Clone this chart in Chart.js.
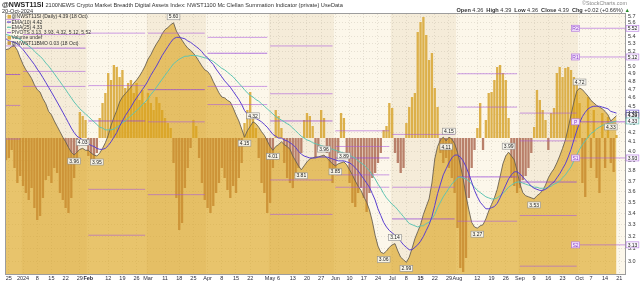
<!DOCTYPE html>
<html>
<head>
<meta charset="utf-8">
<script src="https://cdn.jsdelivr.net/npm/chart.js@4.4.1/dist/chart.umd.min.js"></script>
<style>
  body { margin: 0; background: #fff; }
  #wrap { position: relative; width: 640px; height: 282px; font-family: "Liberation Sans", Arial, sans-serif; color: #222; }
  #c { position: absolute; left: 0; top: 0; }
  .hd { position: absolute; white-space: nowrap; line-height: 1; }
</style>
</head>
<body>
<div id="wrap">
  <canvas id="c" width="640" height="282"></canvas>
  <div class="hd" style="left:2px;top:1px;font-size:7px"><b>@NWST11SI</b> <span style="font-size:5.65px;color:#333">2100NEWS Crypto Market Breadth Digital Assets Index: NWST1100 Mc Clellan Summation Indicator (private) UseData</span></div>
  <div class="hd" style="left:2px;top:8.5px;font-size:5.6px;color:#333">20-Oct-2024</div>
  <div class="hd" style="right:13px;top:1px;font-size:5.4px;color:#888">©StockCharts.com</div>
  <div class="hd" style="right:10px;top:8px;font-size:5.6px;color:#333"><b>Open</b> 4.36 &nbsp;<b>High</b> 4.39 &nbsp;<b>Low</b> 4.36 &nbsp;<b>Close</b> 4.39 &nbsp;<b>Chg</b> +0.02 (+0.66%) <span style="color:#2a8a2a">▲</span></div>
</div>
<script>
// daily closes, 22 Dec 2023 .. 18 Oct 2024 (weekdays)
const price = [
  5.22, 5.23, 5.26, 5.27, 5.21, 5.11, 5.02, 4.95, 4.90, 4.84, 4.76, 4.70, 4.67, 4.59, 4.53, 4.44, 4.40, 4.33, 4.27, 4.21, 4.15, 4.10, 4.04, 3.99, 3.96, 3.99, 4.02, 4.03, 4.01,
  4.01, 3.98, 3.96, 3.95, 3.98, 4.03, 4.09, 4.17, 4.28, 4.37, 4.45, 4.55, 4.61, 4.65, 4.69, 4.73, 4.78, 4.82, 4.87, 4.93, 5.00,
  5.09, 5.15, 5.23, 5.30, 5.36, 5.44, 5.50, 5.53, 5.57, 5.60, 5.48, 5.41, 5.35, 5.29, 5.24, 5.21, 5.17, 5.12, 5.06, 5.00, 4.95,
  4.93, 4.88, 4.80, 4.73, 4.66, 4.61, 4.60, 4.57, 4.55, 4.48, 4.40, 4.33, 4.24, 4.15, 4.22, 4.27, 4.32, 4.30, 4.26, 4.21, 4.17, 4.11,
  4.05, 4.01, 4.05, 4.07, 4.10, 4.07, 4.05, 4.02, 3.95, 3.90, 3.85, 3.81, 3.85, 3.89, 3.92, 3.93, 3.94, 3.94, 3.95, 3.96, 3.93, 3.90, 3.87,
  3.85, 3.87, 3.88, 3.89, 3.86, 3.81, 3.76, 3.70, 3.65, 3.61, 3.55, 3.50, 3.43, 3.33, 3.21, 3.12, 3.07, 3.06, 3.08, 3.11,
  3.13, 3.14, 3.08, 3.03, 3.01, 2.99, 3.03, 3.10, 3.18, 3.24, 3.30, 3.39, 3.46, 3.53, 3.68, 3.92, 4.05, 4.12, 4.15, 4.11, 4.15, 4.13, 4.08,
  3.99, 3.86, 3.72, 3.56, 3.43, 3.32, 3.28, 3.27, 3.29, 3.30, 3.35, 3.42, 3.48, 3.54, 3.62, 3.74, 3.87, 3.95, 3.99, 3.95, 3.91, 3.80,
  3.67, 3.59, 3.56, 3.55, 3.54, 3.53, 3.56, 3.58, 3.61, 3.66, 3.73, 3.78, 3.82, 3.88, 3.95, 4.03, 4.12, 4.25, 4.40, 4.55, 4.68,
  4.72, 4.70, 4.66, 4.62, 4.57, 4.54, 4.51, 4.49, 4.47, 4.44, 4.40, 4.33, 4.36, 4.39
];
const ema10 = [
  5.37, 5.34, 5.33, 5.32, 5.30, 5.26, 5.22, 5.17, 5.12, 5.07, 5.02, 4.96, 4.91, 4.85, 4.79, 4.73, 4.67, 4.61, 4.55, 4.49, 4.43, 4.37, 4.31, 4.25, 4.20, 4.16, 4.14, 4.12, 4.10,
  4.08, 4.06, 4.05, 4.03, 4.02, 4.02, 4.03, 4.06, 4.10, 4.15, 4.20, 4.27, 4.33, 4.39, 4.44, 4.49, 4.55, 4.60, 4.65, 4.70, 4.75,
  4.81, 4.88, 4.94, 5.00, 5.07, 5.14, 5.20, 5.26, 5.32, 5.37, 5.39, 5.39, 5.38, 5.37, 5.34, 5.32, 5.29, 5.26, 5.23, 5.19, 5.14,
  5.11, 5.06, 5.02, 4.96, 4.91, 4.86, 4.81, 4.77, 4.73, 4.68, 4.63, 4.58, 4.52, 4.45, 4.41, 4.38, 4.37, 4.36, 4.34, 4.32, 4.29, 4.26,
  4.22, 4.18, 4.16, 4.14, 4.14, 4.12, 4.11, 4.09, 4.07, 4.04, 4.00, 3.97, 3.95, 3.94, 3.93, 3.93, 3.93, 3.94, 3.94, 3.94, 3.94, 3.93, 3.92,
  3.91, 3.90, 3.90, 3.90, 3.89, 3.88, 3.86, 3.83, 3.80, 3.76, 3.72, 3.68, 3.64, 3.58, 3.52, 3.44, 3.38, 3.32, 3.28, 3.25,
  3.23, 3.21, 3.19, 3.16, 3.13, 3.11, 3.09, 3.09, 3.11, 3.13, 3.16, 3.20, 3.25, 3.30, 3.37, 3.47, 3.58, 3.67, 3.76, 3.82, 3.88, 3.93, 3.96,
  3.96, 3.94, 3.90, 3.84, 3.77, 3.69, 3.61, 3.55, 3.50, 3.47, 3.44, 3.44, 3.45, 3.46, 3.49, 3.54, 3.60, 3.66, 3.72, 3.76, 3.79, 3.79,
  3.77, 3.74, 3.71, 3.68, 3.65, 3.63, 3.62, 3.61, 3.61, 3.62, 3.64, 3.67, 3.69, 3.73, 3.77, 3.82, 3.87, 3.94, 4.02, 4.12, 4.22,
  4.31, 4.38, 4.43, 4.47, 4.49, 4.50, 4.50, 4.50, 4.49, 4.48, 4.47, 4.44, 4.43, 4.42
];
const ema25 = [
  5.43, 5.42, 5.40, 5.39, 5.38, 5.36, 5.33, 5.30, 5.27, 5.24, 5.20, 5.16, 5.13, 5.09, 5.04, 5.00, 4.95, 4.90, 4.85, 4.80, 4.75, 4.70, 4.65, 4.60, 4.55, 4.51, 4.47, 4.44, 4.41,
  4.38, 4.35, 4.32, 4.29, 4.26, 4.25, 4.23, 4.23, 4.23, 4.24, 4.26, 4.28, 4.31, 4.33, 4.36, 4.39, 4.42, 4.45, 4.48, 4.52, 4.55,
  4.59, 4.64, 4.68, 4.73, 4.78, 4.83, 4.88, 4.93, 4.98, 5.03, 5.06, 5.09, 5.11, 5.13, 5.13, 5.14, 5.14, 5.14, 5.13, 5.12, 5.11,
  5.10, 5.08, 5.06, 5.03, 5.00, 4.97, 4.95, 4.92, 4.89, 4.86, 4.82, 4.78, 4.74, 4.70, 4.66, 4.63, 4.61, 4.58, 4.56, 4.53, 4.50, 4.47,
  4.44, 4.41, 4.38, 4.36, 4.34, 4.32, 4.30, 4.28, 4.25, 4.22, 4.19, 4.16, 4.14, 4.12, 4.11, 4.09, 4.08, 4.07, 4.06, 4.05, 4.04, 4.03, 4.02,
  4.01, 4.00, 3.99, 3.98, 3.97, 3.96, 3.94, 3.93, 3.90, 3.88, 3.86, 3.83, 3.80, 3.76, 3.72, 3.67, 3.63, 3.58, 3.54, 3.51,
  3.48, 3.46, 3.43, 3.40, 3.37, 3.34, 3.31, 3.30, 3.29, 3.28, 3.29, 3.29, 3.31, 3.32, 3.35, 3.39, 3.45, 3.50, 3.55, 3.59, 3.63, 3.67, 3.70,
  3.73, 3.74, 3.73, 3.72, 3.70, 3.67, 3.64, 3.61, 3.59, 3.57, 3.55, 3.54, 3.53, 3.53, 3.54, 3.56, 3.58, 3.61, 3.64, 3.66, 3.68, 3.69,
  3.69, 3.68, 3.67, 3.66, 3.65, 3.64, 3.64, 3.63, 3.63, 3.63, 3.64, 3.65, 3.67, 3.68, 3.70, 3.73, 3.76, 3.80, 3.84, 3.90, 3.96,
  4.02, 4.07, 4.11, 4.15, 4.19, 4.21, 4.24, 4.26, 4.28, 4.29, 4.30, 4.31, 4.32, 4.33
];
// breadth momentum oscillator histogram
const bmo = [
  -0.22, -0.20, -0.12, -0.30, -0.45, -0.38, -0.48, -0.55, -0.62, -0.50, -0.70, -0.82, -0.78, -0.60, -0.42, -0.38, -0.45, -0.30, -0.35, -0.55, -0.62, -0.70, -0.75, -0.60, -0.40, -0.20, 0.26, 0.22, 0.18,
  -0.18, -0.25, -0.22, -0.15, 0.20, 0.35, 0.45, 0.65, 0.58, 0.73, 0.71, 0.61, 0.68, 0.50, 0.55, 0.58, 0.45, 0.55, 0.38, 0.48, 0.35,
  0.45, 0.35, 0.28, 0.41, 0.35, 0.28, 0.20, 0.15, 0.10, -0.25, -0.60, -0.92, -0.85, -0.50, -0.30, -0.10, 0.18, 0.12, -0.20, -0.45, -0.62,
  -0.70, -0.75, -0.68, -0.55, -0.45, -0.30, -0.40, -0.52, -0.60, -0.48, -0.55, -0.40, -0.25, 0.15, 0.28, 0.46, 0.25, 0.10, -0.20, -0.45, -0.55, -0.75,
  -0.65, -0.30, 0.28, 0.22, 0.10, -0.25, -0.40, -0.45, -0.50, -0.38, -0.30, -0.15, 0.18, 0.25, 0.22, 0.12, -0.20, -0.12, 0.28, 0.20, -0.15, -0.30, -0.45,
  -0.30, -0.15, 0.25, 0.20, -0.18, -0.45, -0.65, -0.69, -0.55, -0.50, -0.60, -0.74, -0.55, -0.40, -0.35, -0.25, -0.15, 0.08, 0.12, 0.35,
  0.30, -0.15, -0.25, -0.35, -0.30, 0.15, 0.31, 0.41, 0.45, 1.06, 1.16, 1.21, 1.03, 0.78, 0.85, 0.50, 0.31, -0.15, -0.25, -0.20, -0.30, -0.40, -0.55,
  -0.90, -1.30, -1.34, -1.20, -0.60, -0.30, -0.12, 0.10, 0.35, -0.12, 0.18, 0.45, 0.46, 0.58, 0.71, 0.73, 0.65, 0.58, 0.20, -0.40, -0.48, -0.55,
  -0.50, -0.42, -0.38, -0.30, -0.15, 0.11, 0.48, 0.38, 0.28, 0.18, -0.12, 0.25, 0.30, 0.65, 0.71, 0.61, 0.70, 0.71, 0.68, 0.61, 0.55,
  0.35, -0.45, -0.59, 0.41, -0.30, 0.28, -0.40, -0.55, 0.25, -0.30, 0.21, -0.25, -0.34, 0.03
];

// monthly pivot levels
const pivotMonths = ['2023-12', '2024-01', '2024-02', '2024-03', '2024-04', '2024-05', '2024-06', '2024-07', '2024-08', '2024-09', '2024-10'];
const pivR2 = [5.65, 5.74, 5.45, 5.83, 5.82, 5.27, 4.22, 4.18, 4.90, 4.42, 5.52];
const pivR1 = [5.27, 5.43, 4.75, 5.45, 5.39, 4.65, 4.05, 3.64, 4.49, 4.11, 5.12];
const pivP  = [4.89, 5.24, 4.33, 4.70, 5.17, 4.33, 3.93, 3.35, 3.74, 3.69, 4.32];
const pivS1 = [4.51, 4.93, 3.62, 4.32, 4.74, 3.71, 3.76, 2.81, 3.33, 3.38, 3.93];
const pivS2 = [4.13, 4.74, 3.21, 3.57, 4.52, 3.39, 3.64, 2.52, 2.58, 2.96, 3.13];

const yTicks = [3.0, 3.1, 3.2, 3.3, 3.4, 3.5, 3.6, 3.7, 3.8, 3.9, 4.0, 4.1, 4.2, 4.3, 4.4, 4.5, 4.6, 4.7, 4.8, 4.9, 5.0, 5.1, 5.2, 5.3, 5.4, 5.5, 5.6, 5.7];
const xTicks = [
  ['2023-12-25', '25'], ['2024-01-01', '2024'], ['2024-01-08', '8'], ['2024-01-15', '15'], ['2024-01-22', '22'], ['2024-01-29', '29'],
  ['2024-02-01', 'Feb'], ['2024-02-12', '12'], ['2024-02-19', '19'], ['2024-02-26', '26'],
  ['2024-03-01', 'Mar'], ['2024-03-11', '11'], ['2024-03-18', '18'], ['2024-03-25', '25'],
  ['2024-04-01', 'Apr'], ['2024-04-08', '8'], ['2024-04-15', '15'], ['2024-04-22', '22'],
  ['2024-05-01', 'May'], ['2024-05-06', '6'], ['2024-05-13', '13'], ['2024-05-20', '20'], ['2024-05-27', '27'],
  ['2024-06-03', 'Jun'], ['2024-06-10', '10'], ['2024-06-17', '17'], ['2024-06-24', '24'],
  ['2024-07-01', 'Jul'], ['2024-07-08', '8'], ['2024-07-15', '15'], ['2024-07-22', '22'], ['2024-07-29', '29'],
  ['2024-08-01', 'Aug'], ['2024-08-12', '12'], ['2024-08-19', '19'], ['2024-08-26', '26'],
  ['2024-09-02', 'Sep'], ['2024-09-09', '9'], ['2024-09-16', '16'], ['2024-09-23', '23'],
  ['2024-10-01', 'Oct'], ['2024-10-07', '7'], ['2024-10-14', '14'], ['2024-10-21', '21']
];
const boldTicks = ['2024', 'Feb', 'Mar', 'Apr', 'May', 'Jun', 'Jul', 'Aug', 'Sep', 'Oct'];
// swing highs / lows that get a value tag
const peaksUp = [27, 59, 87, 112, 119, 137, 156, 177, 202];
const peaksDown = [24, 32, 84, 94, 104, 116, 133, 141, 155, 166, 186, 213];

// trading days (weekdays), a few empty days after the last close
const dates = [];
for (let d = new Date(Date.UTC(2023, 11, 22)); d <= new Date(Date.UTC(2024, 9, 23)); d.setUTCDate(d.getUTCDate() + 1)) {
  const wd = d.getUTCDay();
  if (wd === 0 || wd === 6) continue;
  dates.push(d.toISOString().slice(0, 10));
}
const tickMap = Object.fromEntries(xTicks);
const monthIdx = dates.map(d => pivotMonths.indexOf(d.slice(0, 7)));
const pivotData = lv => monthIdx.map(m => lv[m]);

const PURPLE = 'rgba(170, 90, 220, 0.6)';
const pivotSet = (lv, col) => ({
  type: 'line', data: pivotData(lv), yAxisID: 'y', order: 1,
  borderColor: col, borderWidth: 1, pointRadius: 0,
  segment: { borderColor: c => monthIdx[c.p0DataIndex] === monthIdx[c.p1DataIndex] ? col : 'rgba(0,0,0,0)' }
});

Chart.defaults.font.family = '"Liberation Sans", Arial, sans-serif';

const bands = {
  id: 'bands',
  beforeDraw(chart) {
    const { ctx, chartArea: a, scales: { x } } = chart;
    ctx.save();
    let start = 0;
    for (let i = 1; i <= dates.length; i++) {
      if (i === dates.length || monthIdx[i] !== monthIdx[start]) {
        const m = +dates[start].slice(5, 7);
        const x0 = start === 0 ? a.left : (x.getPixelForValue(start - 1) + x.getPixelForValue(start)) / 2;
        const x1 = i === dates.length ? a.right : (x.getPixelForValue(i - 1) + x.getPixelForValue(i)) / 2;
        ctx.fillStyle = m % 2 ? '#f5ecd9' : '#fcf7ea';
        ctx.fillRect(x0, a.top, x1 - x0, a.bottom - a.top);
        start = i;
      }
    }
    ctx.restore();
  }
};

function tag(ctx, txt, cx, cy, border, fill, bold) {
  ctx.font = (bold ? 'bold ' : '') + '5px "Liberation Sans"';
  const w = ctx.measureText(txt).width + 3;
  ctx.fillStyle = fill;
  ctx.fillRect(cx - w / 2, cy - 3, w, 6);
  ctx.strokeStyle = border; ctx.lineWidth = 0.6;
  ctx.strokeRect(cx - w / 2, cy - 3, w, 6);
  ctx.fillStyle = '#222';
  ctx.fillText(txt, cx, cy + 0.3);
}

const marks = {
  id: 'marks',
  afterDatasetsDraw(chart) {
    const { ctx, scales: { x, y } } = chart;
    ctx.save();
    ctx.textAlign = 'center'; ctx.textBaseline = 'middle';
    peaksUp.forEach(i => tag(ctx, price[i].toFixed(2), x.getPixelForValue(i), y.getPixelForValue(price[i]) - 6, '#8c8c8c', 'rgba(250,249,242,0.92)'));
    peaksDown.forEach(i => tag(ctx, price[i].toFixed(2), x.getPixelForValue(i), y.getPixelForValue(price[i]) + 6, '#8c8c8c', 'rgba(250,249,242,0.92)'));
    // pivot names at the start of the current month
    const last = pivotMonths.length - 1;
    const first = monthIdx.indexOf(last);
    const px = x.getPixelForValue(first) - 4;
    [['R2', pivR2], ['R1', pivR1], ['P', pivP], ['S1', pivS1], ['S2', pivS2]].forEach(([n, lv]) => {
      ctx.font = '5px "Liberation Sans"';
      ctx.fillStyle = '#f3e4fa';
      ctx.fillRect(px - 4, y.getPixelForValue(lv[last]) - 3, 8, 6);
      ctx.strokeStyle = '#b477e0'; ctx.lineWidth = 0.7;
      ctx.strokeRect(px - 4, y.getPixelForValue(lv[last]) - 3, 8, 6);
      ctx.fillStyle = '#8a40c8';
      ctx.fillText(n, px, y.getPixelForValue(lv[last]) + 0.3);
    });
    ctx.restore();
  },
  afterDraw(chart) {
    const { ctx, chartArea: a, scales: { y } } = chart;
    ctx.save();
    ctx.strokeStyle = '#9d9d9d'; ctx.lineWidth = 1;
    ctx.strokeRect(a.left - 0.5, a.top - 0.5, a.right - a.left + 1, a.bottom - a.top + 1);
    ctx.textAlign = 'center'; ctx.textBaseline = 'middle';
    const last = pivotMonths.length - 1;
    const boxes = [
      [pivR2[last], '#b477e0', false], [pivR1[last], '#b477e0', false],
      [ema10[ema10.length - 1], '#5a3fd0', false],
      [price[price.length - 1], '#2c2c5a', true],
      [ema25[ema25.length - 1], '#4fb9a6', false],
      [pivS1[last], '#b477e0', false], [pivS2[last], '#b477e0', false]
    ];
    boxes.forEach(([v, col, b]) => tag(ctx, v.toFixed(2), a.right + 7.5, y.getPixelForValue(v), col, '#fbf8fd', b));
    // legend
    const items = [
      ['box', '#dcb04a', '@NWST11SI (Daily) 4.39 (18 Oct)'],
      ['line', '#5a3fd0', 'EMA(10) 4.42'],
      ['line', '#5fc4b2', 'EMA(25) 4.33'],
      ['line', '#b070e0', 'PIVOTS 3.13, 3.93, 4.32, 5.12, 5.52'],
      ['box', '#dcb04a', 'Volume undef'],
      ['box', '#c99a4a', '@NWST11BMO 0.03 (18 Oct)']
    ];
    ctx.textAlign = 'left';
    ctx.font = '5px "Liberation Sans"';
    items.forEach(([k, col, txt], j) => {
      const ly = a.top + 2.8 + j * 5.25;
      if (k === 'box') {
        ctx.fillStyle = col; ctx.fillRect(a.left + 1.5, ly - 1.8, 3.5, 3.6);
      } else {
        ctx.strokeStyle = col; ctx.lineWidth = 1.2;
        ctx.beginPath(); ctx.moveTo(a.left + 1, ly); ctx.lineTo(a.left + 5, ly); ctx.stroke();
      }
      ctx.fillStyle = '#333';
      ctx.fillText(txt, a.left + 5.5, ly + 0.3);
    });
    ctx.restore();
  }
};

new Chart(document.getElementById('c').getContext('2d'), {
  type: 'bar',
  data: {
    labels: dates,
    datasets: [
      { type: 'line', label: 'EMA(10)', data: ema10, yAxisID: 'y', order: 0, borderColor: '#5a3fd0', borderWidth: 1, pointRadius: 0 },
      { type: 'line', label: 'EMA(25)', data: ema25, yAxisID: 'y', order: 0, borderColor: '#5fc4b2', borderWidth: 1, pointRadius: 0 },
      pivotSet(pivR2, PURPLE), pivotSet(pivR1, PURPLE), pivotSet(pivP, 'rgba(150, 70, 215, 0.75)'),
      pivotSet(pivS1, PURPLE), pivotSet(pivS2, PURPLE),
      { type: 'line', label: '@NWST11SI', data: price, yAxisID: 'y', order: 2, fill: 'start',
        backgroundColor: 'rgba(219, 162, 24, 0.6)', borderColor: '#6a6152', borderWidth: 0.9, pointRadius: 0 },
      { type: 'bar', label: '@NWST11BMO', data: bmo, yAxisID: 'osc', order: 3,
        backgroundColor: c => c.raw >= 0 ? '#dcb04a' : '#b9806a',
        barPercentage: 0.82, categoryPercentage: 1 }
    ]
  },
  options: {
    responsive: false, animation: false, devicePixelRatio: 1,
    layout: { padding: { left: 6, top: 14, right: 0, bottom: 0 } },
    plugins: { legend: { display: false }, tooltip: { enabled: false } },
    scales: {
      x: {
        type: 'category', offset: false,
        grid: { offset: false, color: 'rgba(150,140,120,0.35)', lineWidth: 0.6, drawTicks: false },
        border: { display: false, dash: [1, 2] },
        ticks: {
          autoSkip: false, maxRotation: 0, minRotation: 0, padding: 1.5, color: '#2a2a3a',
          callback: (v, i) => tickMap[dates[i]] ?? null,
          font: c => ({ size: 5.5, weight: boldTicks.includes(tickMap[dates[c.index]]) ? 'bold' : 'normal' })
        },
        afterFit: s => { s.height = 8; }
      },
      y: {
        type: 'logarithmic', position: 'right', min: 2.915, max: 5.73,
        afterBuildTicks: s => { s.ticks = yTicks.map(v => ({ value: v })); },
        grid: { color: 'rgba(150,140,120,0.35)', lineWidth: 0.6, drawTicks: false },
        border: { display: false, dash: [1, 2] },
        ticks: { callback: v => Number(v).toFixed(1), font: { size: 5.5 }, color: '#333', padding: 3 },
        afterFit: s => { s.width = 15; }
      },
      osc: { type: 'linear', display: false, min: -1.36, max: 1.24 }
    }
  },
  plugins: [bands, marks]
});
</script>
</body>
</html>
